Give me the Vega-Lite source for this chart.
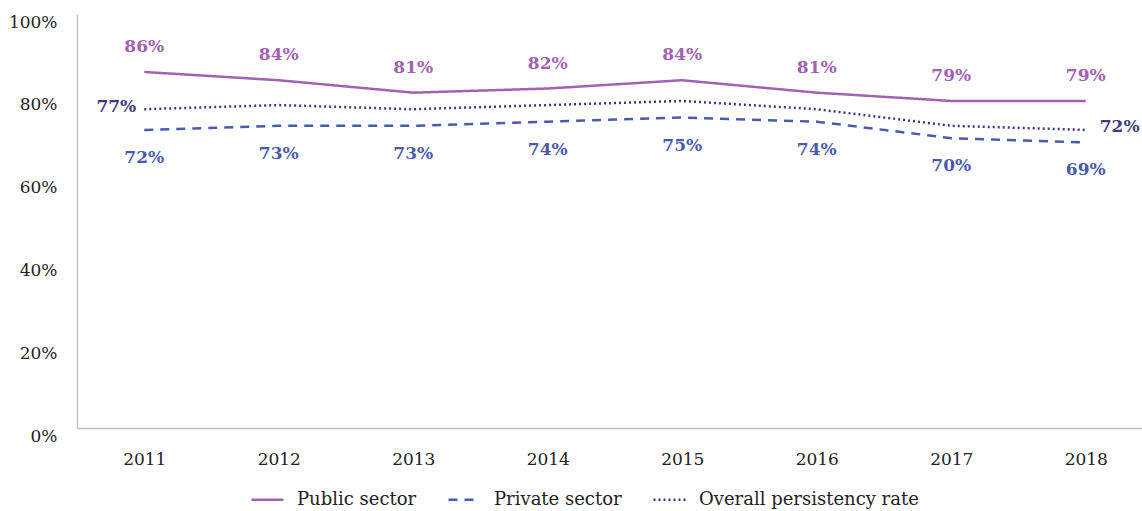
{
  "$schema": "https://vega.github.io/schema/vega-lite/v6.json",
  "width": 1076,
  "height": 414,
  "autosize": {"type": "none"},
  "padding": {"left": 77, "top": 14, "right": 0, "bottom": 83},
  "background": "white",
  "config": {
    "view": {"stroke": null},
    "font": "DejaVu Serif",
    "axis": {"grid": false, "ticks": false, "domainColor": "#bfbfbf", "domainWidth": 1.3, "labelFont": "DejaVu Serif", "labelFontSize": 17, "labelColor": "#222222", "title": null}
  },
  "data": {
    "values": [
      {"year": "2011", "series": "Public sector", "value": 86, "label": "86%"},
      {"year": "2012", "series": "Public sector", "value": 84, "label": "84%"},
      {"year": "2013", "series": "Public sector", "value": 81, "label": "81%"},
      {"year": "2014", "series": "Public sector", "value": 82, "label": "82%"},
      {"year": "2015", "series": "Public sector", "value": 84, "label": "84%"},
      {"year": "2016", "series": "Public sector", "value": 81, "label": "81%"},
      {"year": "2017", "series": "Public sector", "value": 79, "label": "79%"},
      {"year": "2018", "series": "Public sector", "value": 79, "label": "79%"},
      {"year": "2011", "series": "Private sector", "value": 72, "label": "72%"},
      {"year": "2012", "series": "Private sector", "value": 73, "label": "73%"},
      {"year": "2013", "series": "Private sector", "value": 73, "label": "73%"},
      {"year": "2014", "series": "Private sector", "value": 74, "label": "74%"},
      {"year": "2015", "series": "Private sector", "value": 75, "label": "75%"},
      {"year": "2016", "series": "Private sector", "value": 74, "label": "74%"},
      {"year": "2017", "series": "Private sector", "value": 70, "label": "70%"},
      {"year": "2018", "series": "Private sector", "value": 69, "label": "69%"},
      {"year": "2011", "series": "Overall persistency rate", "value": 77, "label": "77%"},
      {"year": "2012", "series": "Overall persistency rate", "value": 78, "label": ""},
      {"year": "2013", "series": "Overall persistency rate", "value": 77, "label": ""},
      {"year": "2014", "series": "Overall persistency rate", "value": 78, "label": ""},
      {"year": "2015", "series": "Overall persistency rate", "value": 79, "label": ""},
      {"year": "2016", "series": "Overall persistency rate", "value": 77, "label": ""},
      {"year": "2017", "series": "Overall persistency rate", "value": 73, "label": ""},
      {"year": "2018", "series": "Overall persistency rate", "value": 72, "label": "72%"}
    ]
  },
  "encoding": {
    "x": {"field": "year", "type": "ordinal", "scale": {"type": "point", "padding": 0.5}, "axis": {"labelAngle": 0, "labelPadding": 23}},
    "y": {"field": "value", "type": "quantitative", "scale": {"domain": [0, 100], "nice": false}, "axis": {"values": [0, 20, 40, 60, 80, 100], "labelExpr": "datum.value + '%'", "labelPadding": 20, "labelOffset": 8}}
  },
  "layer": [
    {
      "mark": {"type": "line", "strokeWidth": 2.5},
      "encoding": {
        "color": {"field": "series", "type": "nominal", "scale": {"domain": ["Public sector", "Private sector", "Overall persistency rate"], "range": ["#a262b1", "#4a5aae", "#3d3a7e"]}, "legend": {"title": null, "orient": "none", "legendX": 173, "legendY": 468, "direction": "horizontal", "symbolType": "stroke", "symbolSize": 1024, "symbolStrokeWidth": 2.5, "labelFont": "DejaVu Serif", "labelFontSize": 18, "labelColor": "#222222", "labelOffset": 12, "labelLimit": 400, "columnPadding": 26}},
        "strokeDash": {"field": "series", "type": "nominal", "scale": {"domain": ["Public sector", "Private sector", "Overall persistency rate"], "range": [[1, 0], [9, 7], [2, 3]]}, "legend": null}
      }
    },
    {
      "transform": [{"filter": "datum.series == 'Public sector'"}],
      "mark": {"type": "text", "dy": -25, "fontWeight": "bold", "fontSize": 17, "font": "DejaVu Serif", "color": "#a262b1"},
      "encoding": {"text": {"field": "label"}}
    },
    {
      "transform": [{"filter": "datum.series == 'Private sector'"}],
      "mark": {"type": "text", "dy": 28, "fontWeight": "bold", "fontSize": 17, "font": "DejaVu Serif", "color": "#4a5aae"},
      "encoding": {"text": {"field": "label"}}
    },
    {
      "transform": [{"filter": "datum.series == 'Overall persistency rate' && datum.year == '2011'"}],
      "mark": {"type": "text", "align": "right", "dx": -8, "dy": -2, "fontWeight": "bold", "fontSize": 17, "font": "DejaVu Serif", "color": "#3d3a7e"},
      "encoding": {"text": {"field": "label"}}
    },
    {
      "transform": [{"filter": "datum.series == 'Overall persistency rate' && datum.year == '2018'"}],
      "mark": {"type": "text", "align": "left", "dx": 14, "dy": -3, "fontWeight": "bold", "fontSize": 17, "font": "DejaVu Serif", "color": "#3d3a7e"},
      "encoding": {"text": {"field": "label"}}
    }
  ]
}
